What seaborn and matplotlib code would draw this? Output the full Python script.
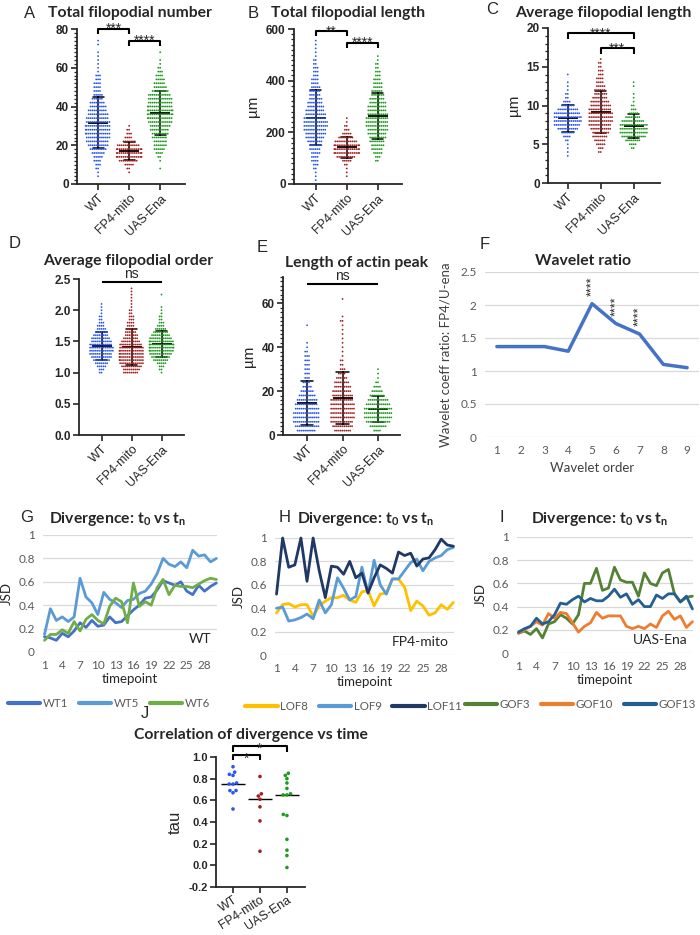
import numpy as np
import pandas as pd
import matplotlib
matplotlib.use("Agg")
import matplotlib.pyplot as plt
import seaborn as sns
from matplotlib.ticker import MultipleLocator, FuncFormatter

groups = ["WT", "FP4-mito", "UAS-Ena"]
dot_colors = ["#2a55f2", "#a51f1f", "#1f9a1f"]

# dot panels: each group as (first bin value, bin width, counts per bin) read off the swarms
# A  total filopodial number
a_wt = (4, 2, [1, 1, 2, 3, 4, 5, 7, 9, 11, 12, 13, 14, 14, 14, 13, 12, 11, 10, 9, 8,
               6, 5, 4, 4, 4, 3, 3, 1, 1, 1, 1, 1, 1, 0, 1, 1])
a_fp4 = (6, 2, [1, 2, 5, 10, 15, 15, 15, 12, 7, 4, 3, 2, 1])
a_uas = (8, 2, [1, 0, 1, 2, 4, 6, 7, 7, 8, 9, 10, 11, 13, 14, 15, 15, 14, 13, 13, 12,
                9, 7, 6, 5, 4, 3, 2, 1, 1, 0, 1])
# B  total filopodial length
b_wt = (15, 15, [1, 1, 1, 2, 3, 4, 4, 5, 6, 7, 8, 10, 11, 12, 13, 13, 12, 11, 10, 9,
                 8, 7, 6, 6, 5, 4, 4, 3, 3, 3, 2, 2, 1, 1, 1, 1, 1])
b_fp4 = (30, 15, [1, 1, 1, 2, 5, 10, 15, 15, 15, 12, 8, 5, 3, 2, 1, 1])
b_uas = (90, 15, [2, 3, 5, 6, 7, 8, 9, 10, 11, 12, 12, 12, 11, 10, 10, 9, 8, 7, 6, 5,
                  5, 4, 3, 3, 2, 2, 1, 1])
# C  average filopodial length
c_wt = (3.5, 0.5, [1, 1, 1, 1, 2, 4, 7, 11, 14, 15, 15, 14, 11, 7, 4, 2, 2, 1, 1, 1, 0, 1])
c_fp4 = (4, 0.5, [2, 3, 5, 6, 8, 9, 11, 12, 13, 13, 13, 12, 11, 10, 8, 7, 6, 5, 4, 4,
                  3, 3, 2, 2, 1])
c_uas = (4.5, 0.5, [2, 4, 8, 13, 15, 15, 15, 12, 8, 5, 3, 2, 1, 1, 1, 0, 1, 1])
# D  average filopodial order
d_wt = (1.0, 0.05, [2, 3, 5, 7, 9, 11, 12, 13, 13, 12, 11, 10, 8, 7, 5, 4, 3, 2, 2, 1, 1, 1, 1])
d_fp4 = (1.0, 0.05, [8, 9, 11, 13, 14, 14, 14, 14, 13, 12, 10, 8, 7, 6, 5, 4, 4, 3, 3, 2,
                     2, 1, 1, 1, 1, 1, 1, 1])
d_uas = (1.0, 0.05, [1, 2, 3, 5, 8, 10, 12, 14, 15, 15, 14, 12, 10, 8, 6, 4, 3, 2, 2, 1,
                     1, 1, 0, 0, 0, 1])
# E  length of actin peak
e_wt = (2, 2, [10, 13, 14, 14, 14, 13, 12, 11, 9, 7, 5, 4, 3, 3, 3, 3, 3, 3, 2, 1, 1, 0, 0, 0, 1])
e_fp4 = (2, 2, [9, 11, 12, 13, 13, 13, 13, 12, 11, 10, 9, 8, 6, 4, 3, 2, 2, 1, 1, 1,
                1, 1, 1, 1, 1, 2, 1, 0, 0, 0, 1])
e_uas = (2, 2, [4, 9, 13, 15, 15, 15, 13, 11, 8, 6, 4, 2, 1, 1, 1])

# F  wavelet ratio
wavelet_order = [1, 2, 3, 4, 5, 6, 7, 8, 9]
wavelet_ratio = [1.37, 1.37, 1.37, 1.30, 2.02, 1.72, 1.56, 1.10, 1.05]
wavelet_signif = {5: "****", 6: "****", 7: "****"}

# G/H/I  JSD divergence t0 vs tn
timepoints = list(range(1, 31))
jsd_wt1 = [0.13, 0.12, 0.10, 0.16, 0.13, 0.18, 0.25, 0.21, 0.27, 0.22, 0.23, 0.30, 0.25, 0.26, 0.31,
           0.36, 0.40, 0.46, 0.47, 0.53, 0.61, 0.59, 0.57, 0.60, 0.52, 0.49, 0.57, 0.52, 0.56, 0.59]
jsd_wt5 = [0.15, 0.37, 0.27, 0.30, 0.26, 0.30, 0.63, 0.47, 0.42, 0.32, 0.51, 0.45, 0.42, 0.38, 0.44,
           0.45, 0.50, 0.52, 0.58, 0.67, 0.80, 0.75, 0.73, 0.77, 0.72, 0.87, 0.82, 0.83, 0.77, 0.80]
jsd_wt6 = [0.10, 0.15, 0.15, 0.19, 0.16, 0.26, 0.18, 0.28, 0.32, 0.27, 0.24, 0.39, 0.46, 0.43, 0.25,
           0.59, 0.39, 0.43, 0.40, 0.55, 0.62, 0.49, 0.57, 0.56, 0.56, 0.55, 0.58, 0.61, 0.63, 0.62]
jsd_lof8 = [0.36, 0.43, 0.44, 0.41, 0.43, 0.43, 0.33, 0.42, 0.46, 0.49, 0.49, 0.51, 0.47, 0.45, 0.54,
            0.55, 0.42, 0.52, 0.53, 0.65, 0.65, 0.58, 0.38, 0.46, 0.42, 0.34, 0.36, 0.43, 0.39, 0.45]
jsd_lof9 = [0.40, 0.41, 0.29, 0.30, 0.32, 0.35, 0.31, 0.47, 0.36, 0.43, 0.66, 0.57, 0.47, 0.50, 0.75,
            0.53, 0.81, 0.60, 0.52, 0.65, 0.65, 0.72, 0.79, 0.82, 0.72, 0.80, 0.83, 0.85, 0.90, 0.92]
jsd_lof11 = [0.52, 1.00, 0.75, 0.77, 1.00, 0.63, 1.00, 0.72, 0.49, 0.76, 0.75, 0.69, 0.80, 0.66, 0.70,
             0.53, 0.66, 0.77, 0.74, 0.70, 0.88, 0.85, 0.87, 0.76, 0.82, 0.83, 0.90, 0.99, 0.94, 0.93]
jsd_gof3 = [0.17, 0.19, 0.16, 0.21, 0.13, 0.25, 0.27, 0.33, 0.30, 0.25, 0.33, 0.60, 0.60, 0.73, 0.54,
            0.56, 0.74, 0.63, 0.61, 0.61, 0.49, 0.69, 0.60, 0.58, 0.69, 0.72, 0.51, 0.44, 0.48, 0.49]
jsd_gof10 = [0.17, 0.20, 0.23, 0.27, 0.24, 0.34, 0.30, 0.35, 0.34, 0.26, 0.18, 0.23, 0.26, 0.35, 0.30,
             0.32, 0.32, 0.32, 0.23, 0.21, 0.23, 0.21, 0.25, 0.22, 0.32, 0.36, 0.29, 0.32, 0.22, 0.27]
jsd_gof13 = [0.18, 0.21, 0.23, 0.30, 0.25, 0.27, 0.33, 0.43, 0.42, 0.46, 0.49, 0.44, 0.47, 0.45, 0.45,
             0.49, 0.55, 0.48, 0.51, 0.42, 0.46, 0.40, 0.40, 0.50, 0.47, 0.51, 0.51, 0.44, 0.49, 0.38]

# J  correlation of divergence vs time (Kendall tau per larva)
tau_wt = [0.91, 0.86, 0.84, 0.83, 0.76, 0.75, 0.75, 0.69, 0.69, 0.67, 0.52]
tau_fp4 = [0.82, 0.66, 0.64, 0.61, 0.54, 0.41, 0.13]
tau_uas = [0.85, 0.83, 0.80, 0.76, 0.71, 0.66, 0.65, 0.65, 0.47, 0.46, 0.24, 0.14, 0.09, -0.02]

EXCEL_GRAY = "#595959"

sns.set_style("ticks")
plt.rcParams["font.family"] = ["Liberation Sans", "DejaVu Sans"]
plt.rcParams["mathtext.fontset"] = "custom"
plt.rcParams["mathtext.rm"] = "Lato"
plt.rcParams["mathtext.bf"] = "Lato:bold"
plt.rcParams["axes.linewidth"] = 1.3

fig = plt.figure(figsize=(7, 9.35), dpi=100)


def add_ax(l, t, r, b):
    """axes from pixel box of the 700x935 figure"""
    return fig.add_axes([l / 700, 1 - b / 935, (r - l) / 700, (b - t) / 935])


def fig_text(x, y, s, **kw):
    fig.text(x / 700, 1 - y / 935, s, **kw)


def binned(spec):
    start, step, counts = spec
    centers = np.round(start + step * np.arange(len(counts)), 3)
    return np.repeat(centers, counts)


def dot_frame(specs):
    return pd.DataFrame({
        "group": np.repeat(groups, [sum(s[2]) for s in specs]),
        "value": np.concatenate([binned(s) for s in specs]),
    })


def bracket(ax, x1, x2, y, drop, label, fs=10, lift=-3):
    ax.plot([x1, x1, x2, x2], [y - drop, y, y, y - drop], color="black", lw=1.5,
            clip_on=False, solid_capstyle="butt")
    ax.annotate(label, xy=((x1 + x2) / 2, y), xytext=(0, lift), textcoords="offset points",
                ha="center", va="baseline", fontsize=fs, annotation_clip=False)


def dot_panel(box, specs, ylim, major, minor, xlim, ylabel=None, fmt=None):
    ax = add_ax(*box)
    df = dot_frame(specs)
    sns.swarmplot(data=df, x="group", y="value", hue="group", order=groups, hue_order=groups,
                  palette=dot_colors, size=1.3, legend=False, warn_thresh=1, ax=ax)
    sns.pointplot(data=df, x="group", y="value", order=groups, estimator="mean", errorbar="sd",
                  color="black", marker="_", markersize=15, markeredgewidth=1.3, linestyle="none",
                  capsize=0.35, err_kws={"linewidth": 1.1}, ax=ax)
    ax.set_xlim(*xlim)
    ax.set_ylim(*ylim)
    sns.despine(ax=ax)
    ax.yaxis.set_major_locator(MultipleLocator(major))
    if minor:
        ax.yaxis.set_minor_locator(MultipleLocator(minor))
    if fmt:
        ax.yaxis.set_major_formatter(FuncFormatter(fmt))
    ax.tick_params(which="major", length=4, width=1.2, labelsize=8.5, pad=2)
    ax.tick_params(which="minor", length=2, width=0.9)
    for lab in ax.get_yticklabels():
        lab.set_fontweight("bold")
    ax.set_xticks(range(3))
    ax.set_xticklabels(groups, rotation=45, ha="right", rotation_mode="anchor", fontsize=9)
    ax.set_xlabel("")
    ax.set_ylabel(ylabel or "", fontsize=11, labelpad=4)
    return ax


def excel_axes(ax, ylim, ystep):
    sns.despine(ax=ax, left=True, bottom=True)
    ax.set_ylim(*ylim)
    ax.yaxis.set_major_locator(MultipleLocator(ystep))
    ax.yaxis.set_major_formatter(FuncFormatter(lambda v, p: f"{v:g}"))
    ax.grid(axis="y", color="#d9d9d9", linewidth=0.9)
    ax.grid(axis="x", visible=False)
    ax.set_axisbelow(True)
    ax.tick_params(length=0, colors=EXCEL_GRAY, labelsize=8.5, pad=6)
    for lab in ax.get_xticklabels() + ax.get_yticklabels():
        lab.set_fontfamily("Lato")


title_kw = dict(fontsize=11.3, fontweight="bold", fontfamily="Lato", ha="center", va="center")
letter_kw = dict(fontsize=12, fontfamily="Liberation Sans", ha="center", va="center")

# ---- A ----
ax_a = dot_panel((77, 29, 185, 184), [a_wt, a_fp4, a_uas], (0, 80), 20, 2, (-0.68, 2.8))
bracket(ax_a, 0, 1, 80, 2.6, "***")
bracket(ax_a, 1, 2, 74, 2.6, "****")
fig_text(30, 13, "A", **letter_kw)
fig_text(130, 13, "Total filopodial number", **title_kw)

# ---- B ----
ax_b = dot_panel((294, 29, 402, 184), [b_wt, b_fp4, b_uas], (0, 600), 200, 20, (-0.7, 2.78),
                 ylabel="µm")
bracket(ax_b, 0, 1, 591, 20, "**")
bracket(ax_b, 1, 2, 546, 20, "****")
fig_text(253, 13, "B", **letter_kw)
fig_text(348, 13, "Total filopodial length", **title_kw)

# ---- C ----
ax_c = dot_panel((548, 28, 660, 183), [c_wt, c_fp4, c_uas], (0, 20), 5, 1, (-0.6, 2.8),
                 ylabel="µm")
bracket(ax_c, 0, 2, 19.3, 0.7, "****")
bracket(ax_c, 1, 2, 17.4, 0.7, "***")
fig_text(492, 9, "C", **letter_kw)
fig_text(603, 13, "Average filopodial length", **title_kw)

# ---- D ----
ax_d = dot_panel((79, 279, 184, 435), [d_wt, d_fp4, d_uas], (0, 2.5), 0.5, None, (-0.75, 2.75),
                 fmt=lambda v, p: f"{v:.1f}")
bracket(ax_d, 0, 2, 2.45, 0, "ns", lift=3)
fig_text(15, 243, "D", **letter_kw)
fig_text(128, 261, "Average filopodial order", **title_kw)

# ---- E ----
ax_e = dot_panel((283, 277, 400, 435), [e_wt, e_fp4, e_uas], (0, 72), 20, 2, (-0.68, 2.62),
                 ylabel="µm")
bracket(ax_e, 0, 2, 68.6, 0, "ns", lift=3)
fig_text(262, 247, "E", **letter_kw)
fig_text(357, 263, "Length of actin peak", **title_kw)

# ---- F ----
ax_f = add_ax(485, 272, 699, 437)
sns.lineplot(x=wavelet_order, y=wavelet_ratio, color="#4472C4", linewidth=2.5, ax=ax_f)
excel_axes(ax_f, (0, 2.5), 0.5)
ax_f.set_xlim(0.5, 9.5)
ax_f.set_xticks(wavelet_order)
ax_f.set_xlabel("Wavelet order", fontsize=9.5, fontfamily="Lato", color="#404040", labelpad=4)
ax_f.set_ylabel("Wavelet coeff ratio: FP4/U-ena", fontsize=9.5, fontfamily="Lato",
                color="#404040", labelpad=6)
for k, lab in wavelet_signif.items():
    ax_f.text(k, wavelet_ratio[k - 1] + 0.12, lab, rotation=90, ha="center", va="bottom",
              fontsize=9, clip_on=False)
fig_text(485, 245, "F", **letter_kw)
fig_text(583, 261, "Wavelet ratio", **title_kw)

# ---- G / H / I ----
div_title = r"Divergence: t$_\mathbf{0}$ vs t$_\mathbf{n}$"
div_panels = [
    ((43, 535, 217, 652), {"WT1": jsd_wt1, "WT5": jsd_wt5, "WT6": jsd_wt6},
     ["#4472C4", "#5B9BD5", "#70AD47"], "WT", 0.38, "G", (27, 518), 118),
    ((275, 538, 454, 655), {"LOF8": jsd_lof8, "LOF9": jsd_lof9, "LOF11": jsd_lof11},
     ["#FFC000", "#5B9BD5", "#203864"], "FP4-mito", 0.44, "H", (285, 518), 366),
    ((517, 537, 693, 653), {"GOF3": jsd_gof3, "GOF10": jsd_gof10, "GOF13": jsd_gof13},
     ["#548235", "#ED7D31", "#255E91"], "UAS-Ena", 0.36, "I", (502, 517), 600),
]
for box, series, cols, tag, leg_x, letter, letter_xy, title_x in div_panels:
    ax = add_ax(*box)
    long = pd.DataFrame([(name, t, v) for name, vals in series.items()
                         for t, v in zip(timepoints, vals)],
                        columns=["series", "timepoint", "JSD"])
    sns.lineplot(data=long, x="timepoint", y="JSD", hue="series", hue_order=list(series),
                 palette=cols, linewidth=2, ax=ax)
    for ln in ax.lines:
        ln.set_clip_on(False)
    excel_axes(ax, (0, 1), 0.2)
    ax.set_xlim(0.75, 30.1)
    ax.set_xticks(range(1, 31, 3))
    ax.set_xlabel("timepoint", fontsize=9.5, fontfamily="Lato", color="#262626", labelpad=1)
    ax.set_ylabel("JSD", fontsize=9.5, fontfamily="Lato", color="#262626", labelpad=4)
    ax.text(0.97, 0.06, tag, transform=ax.transAxes, ha="right", va="bottom", fontsize=10,
            fontfamily="Lato")
    sns.move_legend(ax, "center", bbox_to_anchor=(leg_x, -0.44), ncol=3, frameon=False,
                    title=None, fontsize=8.3, handlelength=2.8, columnspacing=0.9,
                    handletextpad=0.25, borderpad=0)
    for txt in ax.get_legend().get_texts():
        txt.set_color(EXCEL_GRAY)
        txt.set_fontfamily("Lato")
    for h in ax.get_legend().legend_handles:
        h.set_linewidth(3)
    fig_text(*letter_xy, letter, **letter_kw)
    fig_text(title_x, 519, div_title, **title_kw)

# ---- J ----
ax_j = add_ax(216, 757, 305, 887)
tau_df = pd.DataFrame({
    "group": np.repeat(groups, [len(tau_wt), len(tau_fp4), len(tau_uas)]),
    "tau": tau_wt + tau_fp4 + tau_uas,
})
sns.swarmplot(data=tau_df, x="group", y="tau", hue="group", order=groups, hue_order=groups,
              palette=dot_colors, size=2.6, legend=False, ax=ax_j)
sns.pointplot(data=tau_df, x="group", y="tau", order=groups, estimator="median", errorbar=None,
              color="black", marker="_", markersize=17, markeredgewidth=1.0, linestyle="none",
              ax=ax_j)
ax_j.set_xlim(-0.63, 2.67)
ax_j.set_ylim(-0.2, 1.0)
sns.despine(ax=ax_j)
ax_j.yaxis.set_major_locator(MultipleLocator(0.2))
ax_j.yaxis.set_major_formatter(FuncFormatter(lambda v, p: f"{v:.1f}"))
ax_j.tick_params(length=4, width=1.2, labelsize=8, pad=2)
ax_j.tick_params(axis="x", pad=1)
for lab in ax_j.get_yticklabels():
    lab.set_fontweight("bold")
ax_j.set_xticks(range(3))
ax_j.set_xticklabels(groups, rotation=33, ha="right", rotation_mode="anchor", fontsize=9)
ax_j.set_xlabel("")
ax_j.set_ylabel("tau", fontsize=12, labelpad=4)
bracket(ax_j, 0, 1, 1.015, 0.04, "*", fs=10, lift=-5)
bracket(ax_j, 0, 2, 1.10, 0.05, "*", fs=10, lift=-5)
fig_text(145, 714, "J", **letter_kw)
fig_text(251, 735, "Correlation of divergence vs time", **title_kw)

fig.savefig("out.png", dpi=100)
